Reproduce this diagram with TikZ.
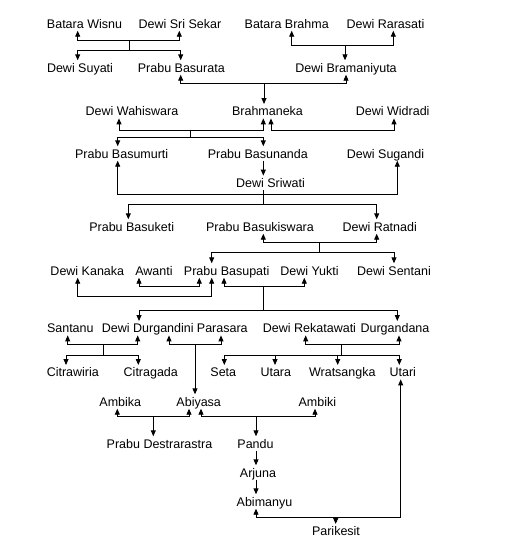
\documentclass[tikz,border=0pt]{standalone}
\usepackage{fontspec}
\setmainfont{Liberation Sans}
\usetikzlibrary{arrows.meta}
\begin{document}
\begin{tikzpicture}[x=1pt,y=-1pt,
  person/.style={anchor=base,inner xsep=0pt,inner ysep=2.5pt,text height=9pt,text depth=0pt,font=\fontsize{12.5}{14}\selectfont},
  link/.style={line width=0.9pt},
  arr/.style={link,-{Triangle[length=6pt,width=5pt]}},
  dbl/.style={link,{Triangle[length=6pt,width=5pt]}-{Triangle[length=6pt,width=5pt]}}]
\fill[white] (0,0) rectangle (512,546);
\path[use as bounding box] (0,0) rectangle (512,546);
% row 1
\node[person] (bw) at (84.5,28) {Batara Wisnu};
\node[person] (dss) at (180,28) {Dewi Sri Sekar};
\node[person] (bb) at (286.7,28) {Batara Brahma};
\node[person] (dr) at (385.5,28) {Dewi Rarasati};
% row 2
\node[person] (ds) at (80,72) {Dewi Suyati};
\node[person] (pbr) at (181.3,72) {Prabu Basurata};
\node[person] (dbm) at (346,72) {Dewi Bramaniyuta};
% row 3
\node[person] (dwh) at (132,115.7) {Dewi Wahiswara};
\node[person] (brk) at (267.5,115.7) {Brahmaneka};
\node[person] (dwd) at (392.7,115.7) {Dewi Widradi};
% row 4
\node[person] (pbm) at (121.7,158) {Prabu Basumurti};
\node[person] (pbn) at (257.8,158) {Prabu Basunanda};
\node[person] (dsg) at (385.5,158) {Dewi Sugandi};
\node[person] (dsw) at (270.5,187.3) {Dewi Sriwati};
% row 5
\node[person] (pbk) at (131.7,231) {Prabu Basuketi};
\node[person] (pbs) at (260,231) {Prabu Basukiswara};
\node[person] (drt) at (379.7,231) {Dewi Ratnadi};
% row 6
\node[person] (dk) at (87.3,275) {Dewi Kanaka};
\node[person] (aw) at (154,275) {Awanti};
\node[person] (pbp) at (226.7,275) {Prabu Basupati};
\node[person] (dy) at (309.5,275) {Dewi Yukti};
\node[person] (dst) at (394,275) {Dewi Sentani};
% row 7
\node[person] (sa) at (70.3,332.7) {Santanu};
\node[person] (ddg) at (147.8,332.7) {Dewi Durgandini};
\node[person] (pa) at (222.3,332.7) {Parasara};
\node[person] (drk) at (309.5,332.7) {Dewi Rekatawati};
\node[person] (dgd) at (395,332.7) {Durgandana};
% row 8
\node[person] (cw) at (72.8,376.7) {Citrawiria};
\node[person] (cg) at (150.8,376.7) {Citragada};
\node[person] (se) at (223.3,376.7) {Seta};
\node[person] (ut) at (275.8,376.7) {Utara};
\node[person] (wr) at (342.3,376.7) {Wratsangka};
\node[person] (uti) at (402.8,376.7) {Utari};
% row 9
\node[person] (amb) at (120.3,406) {Ambika};
\node[person] (abi) at (198.7,406) {Abiyasa};
\node[person] (ambk) at (317.3,406) {Ambiki};
% row 10 and below
\node[person] (pd) at (159.5,448) {Prabu Destrarastra};
\node[person] (pan) at (255.5,448) {Pandu};
\node[person] (arj) at (258,477) {Arjuna};
\node[person] (abm) at (264.5,506) {Abimanyu};
\node[person] (par) at (336,535.7) {Parikesit};
% connectors
\draw[dbl] (bw.south -| 77.7,0) |- (179.3,40) -- (dss.south -| 179.3,0);
\draw[link] (129.3,40) -- (129.3,50);
\draw[dbl] (ds.north -| 77.7,0) |- (180.7,50) -- (pbr.north -| 180.7,0);
\draw[dbl] (bb.south -| 291.7,0) |- (393.3,45) -- (dr.south -| 393.3,0);
\draw[arr] (345,45) -- (dbm.north -| 345,0);
\draw[dbl] (pbr.south -| 180.7,0) |- (346,83.3) -- (dbm.south -| 346,0);
\draw[arr] (264,83.3) -- (brk.north -| 264,0);
\draw[dbl] (dwh.south -| 119,0) |- (263.3,130) -- (brk.south -| 263.3,0);
\draw[dbl] (brk.south -| 271,0) |- (394,130) -- (dwd.south -| 394,0);
\draw[link] (190,130) -- (190,137.7);
\draw[dbl] (pbm.north -| 117.7,0) |- (263.3,137.7) -- (pbn.north -| 263.3,0);
\draw[arr] (pbn.south -| 263.3,0) -- (dsw.north -| 263.3,0);
\draw[dbl] (pbm.south -| 117.7,0) |- (397.3,194) -- (dsg.south -| 397.3,0);
\draw[link] (dsw.south -| 263.3,0) -- (263.3,204);
\draw[dbl] (pbk.north -| 128.3,0) |- (376.7,204) -- (drt.north -| 376.7,0);
\draw[dbl] (pbs.south -| 263.3,0) |- (376.7,242) -- (drt.south -| 376.7,0);
\draw[link] (319.3,242) -- (319.3,252.3);
\draw[dbl] (pbp.north -| 211.7,0) |- (394,252.3) -- (dst.north -| 394,0);
\draw[dbl] (aw.south -| 139,0) |- (199.3,286) -- (pbp.south -| 199.3,0);
\draw[dbl] (dk.south -| 77.7,0) |- (211.7,296) -- (pbp.south -| 211.7,0);
\draw[dbl] (pbp.south -| 224,0) |- (304.3,286) -- (dy.south -| 304.3,0);
\draw[link] (263.3,286) -- (263.3,310);
\draw[dbl] (ddg.north -| 139,0) |- (397.3,310) -- (dgd.north -| 397.3,0);
\draw[dbl] (sa.south -| 67.7,0) |- (137.7,344.3) -- (ddg.south -| 137.7,0);
\draw[link] (103.3,344.3) -- (103.3,355);
\draw[dbl] (cw.north -| 66,0) |- (138.3,355) -- (cg.north -| 138.3,0);
\draw[dbl] (ddg.south -| 169,0) |- (221,344.3) -- (pa.south -| 221,0);
\draw[arr] (195,344.3) -- (abi.north -| 195,0);
\draw[dbl] (drk.south -| 305.7,0) |- (399,344.3) -- (dgd.south -| 399,0);
\draw[link] (341,344.3) -- (341,355);
\draw[dbl] (se.north -| 224.3,0) |- (399.3,355) -- (uti.north -| 399.3,0);
\draw[arr] (275,355) -- (ut.north -| 275,0);
\draw[arr] (337.7,355) -- (wr.north -| 337.7,0);
\draw[dbl] (amb.south -| 117.3,0) |- (189,416) -- (abi.south -| 189,0);
\draw[arr] (153.3,416) -- (pd.north -| 153.3,0);
\draw[dbl] (abi.south -| 201,0) |- (315,416) -- (ambk.south -| 315,0);
\draw[arr] (256,416) -- (pan.north -| 256,0);
\draw[arr] (pan.south -| 256,0) -- (arj.north -| 256,0);
\draw[arr] (arj.south -| 256,0) -- (abm.north -| 256,0);
\draw[dbl] (abm.south -| 256,0) |- (400.7,517.7) -- (uti.south -| 400.7,0);
\draw[arr] (335.7,517.7) -- (par.north -| 335.7,0);
\end{tikzpicture}
\end{document}
